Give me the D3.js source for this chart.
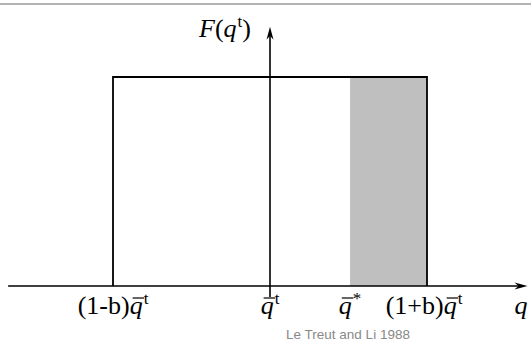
<!DOCTYPE html>
<html>
<head>
<meta charset="utf-8">
<script src="https://d3js.org/d3.v7.min.js"></script>
<style>
  body { margin: 0; background: #fff; }
  svg { display: block; }
  .tex { font-family: "Liberation Serif", "DejaVu Serif", serif; font-size: 26px; fill: #000; }
  .credit { font-family: "Liberation Sans", Arial, sans-serif; font-size: 13.5px; fill: #888; }
</style>
</head>
<body>
<div id="chart"></div>
<script>
// uniform distribution of total water q^t (b = 0.5, qbar = 1)
var qbar = 1.0;
var b = 0.5;
var qStar = 1.255;                       // saturation value
var density = [                          // F(q^t) box
  { q: qbar * (1 - b), F: 1 / (2 * b) },
  { q: qbar * (1 + b), F: 1 / (2 * b) }
];
var shaded = [qStar, qbar * (1 + b)];    // cloudy part
var tickValues = [qbar * (1 - b), qbar, qStar, qbar * (1 + b)];
var tickLabels = [
  [{ t: "(1-b)" }, { t: "q", bar: true }, { t: "t", sup: true }],
  [{ t: "q", bar: true }, { t: "t", sup: true }],
  [{ t: "q", bar: true }, { t: "*", sup: true }],
  [{ t: "(1+b)" }, { t: "q", bar: true }, { t: "t", sup: true }]
];
var xDomain = [0.166, 1.82];
var yDomain = [0, 1.25];

var width = 531, height = 358;
var axisY = 286;

var x = d3.scaleLinear().domain([0.5, 1.5]).range([113, 427]);
var y = d3.scaleLinear().domain([0, 1]).range([axisY, 77]);

var svg = d3.select("#chart").append("svg")
    .attr("width", width)
    .attr("height", height);

// thin grey rule at the top
svg.append("line")
    .attr("x1", 0).attr("x2", width)
    .attr("y1", 4).attr("y2", 4)
    .attr("stroke", "#9a9a9a")
    .attr("stroke-width", 1.5);

// shaded region
svg.append("rect")
    .attr("x", x(shaded[0]))
    .attr("y", y(density[1].F))
    .attr("width", x(shaded[1]) - x(shaded[0]))
    .attr("height", y(0) - y(density[1].F))
    .attr("fill", "#bfbfbf");

// box outline of the pdf
var boxLine = d3.line()
    .x(function(d) { return x(d[0]); })
    .y(function(d) { return y(d[1]); });
svg.append("path")
    .attr("d", boxLine([
      [density[0].q, 0], [density[0].q, density[0].F],
      [density[1].q, density[1].F], [density[1].q, 0]
    ]))
    .attr("fill", "none")
    .attr("stroke", "#000")
    .attr("stroke-width", 1.8);

// axes
var x0 = x(xDomain[0]), x1 = x(xDomain[1]);
svg.append("line")
    .attr("x1", x0).attr("x2", x1 - 4)
    .attr("y1", axisY).attr("y2", axisY)
    .attr("stroke", "#000").attr("stroke-width", 1.6);
svg.append("path")
    .attr("d", "M" + x1 + "," + axisY + " L" + (x1 - 13) + "," + (axisY - 3.5) +
         " L" + (x1 - 9) + "," + axisY + " L" + (x1 - 13) + "," + (axisY + 3.5) + "Z")
    .attr("fill", "#000");

var xa = x(qbar);
var yTop = y(yDomain[1]) + 2;
svg.append("line")
    .attr("x1", xa).attr("x2", xa)
    .attr("y1", yTop + 4).attr("y2", axisY + 11)
    .attr("stroke", "#000").attr("stroke-width", 1.6);
svg.append("path")
    .attr("d", "M" + xa + "," + yTop + " L" + (xa - 3.5) + "," + (yTop + 13) +
         " L" + xa + "," + (yTop + 9) + " L" + (xa + 3.5) + "," + (yTop + 13) + "Z")
    .attr("fill", "#000");

// tex-like label helper
function texLabel(parts, cx, baseline, anchor) {
  var t = svg.append("text")
      .attr("class", "tex")
      .attr("x", cx)
      .attr("y", baseline)
      .attr("text-anchor", anchor || "middle");
  var bars = [];
  var prevSup = false;
  parts.forEach(function(p) {
    var ts = t.append("tspan").text(p.t);
    if (p.bar || p.it) ts.style("font-style", "italic");
    if (p.sup) {
      ts.attr("font-size", "17px").attr("dy", "-10").attr("dx", "1");
    } else if (prevSup) {
      ts.attr("dy", "10");
    }
    prevSup = !!p.sup;
    if (p.bar) bars.push(ts.node());
  });
  bars.forEach(function(n) {
    var s = n.getStartPositionOfChar(0);
    var e = n.getEndPositionOfChar(0);
    svg.append("line")
      .attr("x1", s.x + 3).attr("x2", e.x + 1.5)
      .attr("y1", baseline - 16).attr("y2", baseline - 16)
      .attr("stroke", "#000").attr("stroke-width", 1.2);
  });
  return t;
}

tickValues.forEach(function(v, i) {
  texLabel(tickLabels[i], x(v) + (i == 3 ? -3 : 0), 314);
});

// axis titles
texLabel([{ t: "q", it: true }], 521, 314);
texLabel([{ t: "F", it: true }, { t: "(" }, { t: "q", it: true }, { t: "t", sup: true }, { t: ")" }], 225, 37);

// source credit
svg.append("text")
    .attr("class", "credit")
    .attr("x", 348)
    .attr("y", 339)
    .attr("text-anchor", "middle")
    .text("Le Treut and Li 1988");
</script>
</body>
</html>
